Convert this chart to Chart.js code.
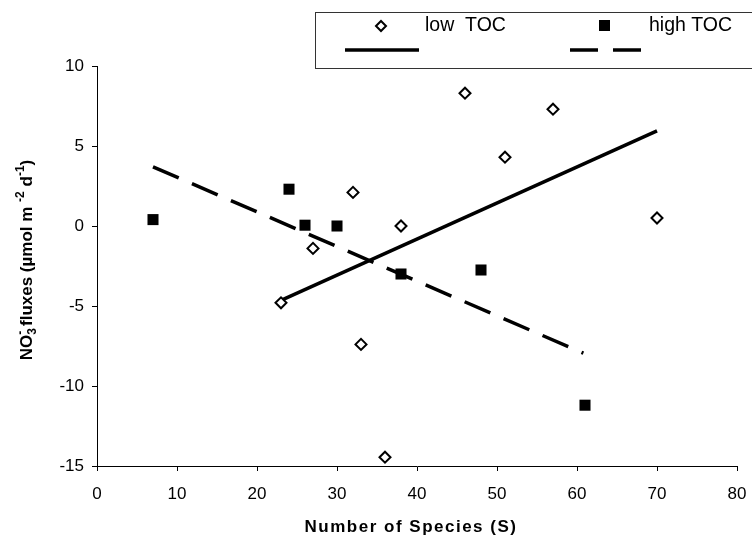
<!DOCTYPE html>
<html>
<head>
<meta charset="utf-8">
<script src="https://cdn.jsdelivr.net/npm/chart.js@4.4.0/dist/chart.umd.min.js"></script>
<style>
  html, body { margin: 0; padding: 0; background: #fff; }
</style>
</head>
<body>
<canvas id="chart" width="752" height="541"></canvas>
<script>
// low TOC stations
const lowSpecies = [23, 27, 32, 33, 36, 38, 46, 51, 57, 70];
const lowFlux = [-4.8, -1.4, 2.1, -7.4, -14.45, 0, 8.3, 4.3, 7.3, 0.5];
// high TOC stations
const highSpecies = [7, 24, 26, 30, 38, 48, 61];
const highFlux = [0.4, 2.3, 0.05, 0, -3, -2.75, -11.2];
// linear trend end points
const lowTrendX = [23, 70];
const lowTrendY = [-4.65, 5.95];
const highTrendX = [7, 60.8];
const highTrendY = [3.7, -7.95];

const xTicks = [0, 10, 20, 30, 40, 50, 60, 70, 80];
const yTicks = [-15, -10, -5, 0, 5, 10];

const FONT = '"Liberation Sans", Arial, sans-serif';

const toPoints = (xs, ys) => xs.map((x, i) => ({ x: x, y: ys[i] }));

// axis titles and the boxed legend
const decorations = {
  id: "decorations",
  afterDraw(chart) {
    const ctx = chart.ctx;
    const area = chart.chartArea;
    ctx.save();
    ctx.fillStyle = "#000";

    // x title
    ctx.font = "bold 17px " + FONT;
    ctx.letterSpacing = "1.5px";
    ctx.textAlign = "center";
    ctx.textBaseline = "middle";
    ctx.fillText("Number of Species (S)", (area.left + area.right) / 2 - 6, 527);
    ctx.letterSpacing = "0px";

    // y title with sub / superscripts
    ctx.save();
    ctx.translate(26, 260);
    ctx.rotate(-Math.PI / 2);
    ctx.textAlign = "left";
    ctx.textBaseline = "alphabetic";
    const big = "bold 17px " + FONT;
    const small = "bold 12px " + FONT;
    const parts = [
      { t: "NO", f: big, dy: 0 },
      { t: "3", f: small, dy: 4, keep: true },
      { t: "-", f: small, dy: -8 },
      { t: " fluxes (\u00b5mol m ", f: big, dy: 0 },
      { t: "-2", f: small, dy: -8 },
      { t: " d", f: big, dy: 0 },
      { t: "-1", f: small, dy: -8 },
      { t: ")", f: big, dy: 0 }
    ];
    let total = 0;
    parts.forEach(p => {
      ctx.font = p.f;
      if (!p.keep) total += ctx.measureText(p.t).width;
    });
    let x = -total / 2;
    parts.forEach(p => {
      ctx.font = p.f;
      ctx.fillText(p.t, x, 6 + p.dy);
      if (!p.keep) x += ctx.measureText(p.t).width;
    });
    ctx.restore();

    // legend box
    ctx.strokeStyle = "#333";
    ctx.lineWidth = 1;
    ctx.strokeRect(315.5, 12.5, 460, 56);

    ctx.font = "19.5px " + FONT;
    ctx.textAlign = "left";
    ctx.textBaseline = "middle";
    ctx.fillText("low  TOC", 425, 26);
    ctx.fillText("high TOC", 649, 26);

    // markers
    ctx.lineWidth = 2;
    ctx.strokeStyle = "#000";
    ctx.fillStyle = "#fff";
    ctx.beginPath();
    ctx.moveTo(376, 26); ctx.lineTo(381, 21); ctx.lineTo(386, 26); ctx.lineTo(381, 31);
    ctx.closePath();
    ctx.fill();
    ctx.stroke();
    ctx.fillStyle = "#000";
    ctx.fillRect(599, 20, 11, 11);

    // line samples
    ctx.lineWidth = 3.5;
    ctx.beginPath();
    ctx.moveTo(345, 50); ctx.lineTo(419, 50);
    ctx.stroke();
    ctx.setLineDash([28, 15]);
    ctx.beginPath();
    ctx.moveTo(570, 50); ctx.lineTo(641, 50);
    ctx.stroke();
    ctx.restore();
  }
};

new Chart(document.getElementById("chart"), {
  type: "scatter",
  data: {
    datasets: [
      {
        label: "low TOC",
        data: toPoints(lowSpecies, lowFlux),
        pointStyle: "rectRot",
        pointRadius: 5.5,
        pointBorderWidth: 2,
        pointBackgroundColor: "#fff",
        pointBorderColor: "#000"
      },
      {
        label: "high TOC",
        data: toPoints(highSpecies, highFlux),
        pointStyle: "rect",
        pointRadius: 7.8,
        pointBorderWidth: 0,
        pointBackgroundColor: "#000",
        pointBorderColor: "#000"
      },
      {
        label: "low TOC trend",
        data: toPoints(lowTrendX, lowTrendY),
        showLine: true,
        pointRadius: 0,
        borderColor: "#000",
        borderWidth: 3.5
      },
      {
        label: "high TOC trend",
        data: toPoints(highTrendX, highTrendY),
        showLine: true,
        pointRadius: 0,
        borderColor: "#000",
        borderWidth: 3.5,
        borderDash: [28, 14.45]
      }
    ]
  },
  options: {
    responsive: false,
    animation: false,
    layout: { padding: { left: 0, right: 15, top: 66, bottom: 0 } },
    plugins: {
      legend: { display: false },
      tooltip: { enabled: false }
    },
    scales: {
      x: {
        type: "linear",
        min: 0,
        max: 80,
        afterFit: scale => {
          scale.height = 75;
          scale.paddingLeft = 0;
          scale.paddingRight = 0;
        },
        afterBuildTicks: scale => { scale.ticks = xTicks.map(v => ({ value: v })); },
        border: { display: true, color: "#000", width: 1 },
        grid: { drawOnChartArea: false, drawTicks: true, tickLength: 5, color: "#000" },
        ticks: { color: "#000", padding: 13, font: { family: FONT, size: 17 } }
      },
      y: {
        type: "linear",
        min: -15,
        max: 10,
        afterFit: scale => {
          scale.width = 97;
          scale.paddingTop = 0;
          scale.paddingBottom = 0;
        },
        afterBuildTicks: scale => { scale.ticks = yTicks.map(v => ({ value: v })); },
        border: { display: true, color: "#000", width: 1 },
        grid: { drawOnChartArea: false, drawTicks: true, tickLength: 5, color: "#000" },
        ticks: { color: "#000", padding: 8, font: { family: FONT, size: 17 } }
      }
    }
  },
  plugins: [decorations]
});
</script>
</body>
</html>
